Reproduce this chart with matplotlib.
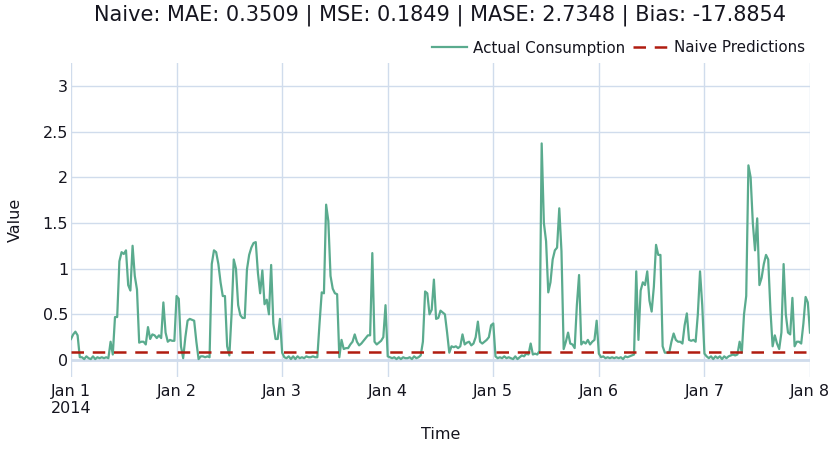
import numpy as np
import pandas as pd
import matplotlib
matplotlib.use("Agg")
import matplotlib.pyplot as plt

# half-hourly consumption, one list per day
day1 = [0.23, 0.28, 0.31, 0.27, 0.03, 0.03, 0.01, 0.04, 0.02, 0.01, 0.04, 0.01,
        0.03, 0.02, 0.03, 0.02, 0.03, 0.02, 0.20, 0.06, 0.47, 0.47, 1.08, 1.18,
        1.16, 1.20, 0.82, 0.76, 1.25, 0.92, 0.77, 0.19, 0.20, 0.20, 0.17, 0.36,
        0.23, 0.28, 0.27, 0.24, 0.27, 0.24, 0.63, 0.30, 0.20, 0.22, 0.21, 0.21]
day2 = [0.70, 0.67, 0.15, 0.02, 0.25, 0.43, 0.45, 0.44, 0.43, 0.20, 0.01, 0.04,
        0.04, 0.03, 0.04, 0.03, 1.05, 1.20, 1.18, 1.05, 0.85, 0.70, 0.70, 0.15,
        0.05, 0.50, 1.10, 1.00, 0.60, 0.49, 0.46, 0.46, 0.99, 1.15, 1.23, 1.28,
        1.29, 0.95, 0.73, 0.98, 0.61, 0.66, 0.50, 1.04, 0.40, 0.23, 0.23, 0.45]
day3 = [0.08, 0.03, 0.02, 0.04, 0.01, 0.04, 0.01, 0.04, 0.02, 0.03, 0.02, 0.04,
        0.03, 0.03, 0.04, 0.03, 0.03, 0.40, 0.74, 0.73, 1.70, 1.52, 0.92, 0.78,
        0.73, 0.72, 0.03, 0.22, 0.12, 0.13, 0.13, 0.17, 0.20, 0.28, 0.20, 0.16,
        0.18, 0.21, 0.24, 0.27, 0.27, 1.17, 0.20, 0.17, 0.19, 0.21, 0.25, 0.60]
day4 = [0.04, 0.03, 0.02, 0.03, 0.01, 0.03, 0.01, 0.03, 0.02, 0.02, 0.03, 0.01,
        0.04, 0.02, 0.03, 0.05, 0.20, 0.75, 0.73, 0.50, 0.55, 0.88, 0.45, 0.46,
        0.54, 0.52, 0.50, 0.30, 0.08, 0.15, 0.14, 0.15, 0.13, 0.15, 0.28, 0.17,
        0.19, 0.20, 0.16, 0.18, 0.25, 0.42, 0.20, 0.18, 0.20, 0.22, 0.25, 0.38]
day5 = [0.40, 0.04, 0.02, 0.03, 0.02, 0.04, 0.02, 0.03, 0.02, 0.01, 0.04, 0.01,
        0.03, 0.05, 0.04, 0.07, 0.06, 0.18, 0.06, 0.07, 0.06, 0.10, 2.37, 1.50,
        1.30, 0.74, 0.85, 1.10, 1.20, 1.23, 1.66, 1.19, 0.12, 0.20, 0.30, 0.18,
        0.17, 0.13, 0.60, 0.93, 0.17, 0.20, 0.18, 0.22, 0.17, 0.20, 0.22, 0.43]
day6 = [0.07, 0.03, 0.04, 0.02, 0.03, 0.02, 0.03, 0.02, 0.03, 0.02, 0.03, 0.01,
        0.04, 0.03, 0.04, 0.05, 0.06, 0.97, 0.22, 0.76, 0.85, 0.82, 0.97, 0.65,
        0.53, 0.80, 1.26, 1.15, 1.15, 0.15, 0.08, 0.08, 0.08, 0.20, 0.29, 0.22,
        0.20, 0.20, 0.18, 0.38, 0.51, 0.22, 0.21, 0.22, 0.20, 0.50, 0.97, 0.60]
day7 = [0.07, 0.04, 0.02, 0.04, 0.01, 0.04, 0.02, 0.04, 0.01, 0.04, 0.02, 0.04,
        0.05, 0.06, 0.05, 0.06, 0.20, 0.08, 0.50, 0.70, 2.13, 2.00, 1.50, 1.20,
        1.55, 0.82, 0.90, 1.05, 1.15, 1.10, 0.55, 0.15, 0.27, 0.18, 0.12, 0.30,
        1.05, 0.50, 0.30, 0.28, 0.68, 0.15, 0.20, 0.20, 0.18, 0.40, 0.69, 0.63]
last_point = [0.30]

actual = day1 + day2 + day3 + day4 + day5 + day6 + day7 + last_point
naive_value = 0.086
title = "Naive: MAE: 0.3509 | MSE: 0.1849 | MASE: 2.7348 | Bias: -17.8854"

times = pd.date_range("2014-01-01", periods=len(actual), freq="30min")
naive = [naive_value] * len(actual)

grid_col = "#d0dcec"
text_col = "#15151f"

fig = plt.figure(figsize=(8.39, 4.49), dpi=100)
ax = fig.add_axes([71 / 839, 1 - 377 / 449, (810 - 71) / 839, (377 - 63) / 449])

ax.plot(times, actual, color="#5aab8e", lw=1.6, label="Actual Consumption", zorder=3)
ax.plot(times, naive, color="#b01c10", lw=1.8, ls=(0, (5, 3.5)), label="Naive Predictions", zorder=4)

ax.set_xlim(times[0], times[-1])
ax.set_ylim(-0.186, 3.25)
ax.set_yticks([0, 0.5, 1, 1.5, 2, 2.5, 3])
ax.set_yticklabels(["0", "0.5", "1", "1.5", "2", "2.5", "3"])

ticks = pd.date_range("2014-01-01", "2014-01-08", freq="D")
ax.set_xticks(ticks)
ax.set_xticklabels(["Jan 1\n2014"] + ["Jan %d" % d.day for d in ticks[1:]],
                   ha="center", multialignment="center")

ax.grid(True, color=grid_col, lw=1)
ax.axhline(0, color=grid_col, lw=2, zorder=1)
ax.set_axisbelow(True)
for s in ax.spines.values():
    s.set_visible(False)
ax.tick_params(axis="x", length=0, labelsize=11.5, colors=text_col, pad=5)
ax.tick_params(axis="y", length=0, labelsize=11.5, colors=text_col, pad=2)

ax.set_xlabel("Time", fontsize=11.5, color=text_col, labelpad=8)
ax.set_ylabel("Value", fontsize=11.5, color=text_col, labelpad=14)

fig.text(0.525, 0.967, title, ha="center", va="center", fontsize=15, color=text_col)

ax.legend(loc="center right", bbox_to_anchor=(811 / 839, 1 - 48 / 449),
          bbox_transform=fig.transFigure, ncol=2, frameon=False,
          fontsize=10.9, handlelength=2.3, columnspacing=0.55, handletextpad=0.4,
          borderaxespad=0, labelcolor=text_col)

fig.savefig("out.png", dpi=100)
